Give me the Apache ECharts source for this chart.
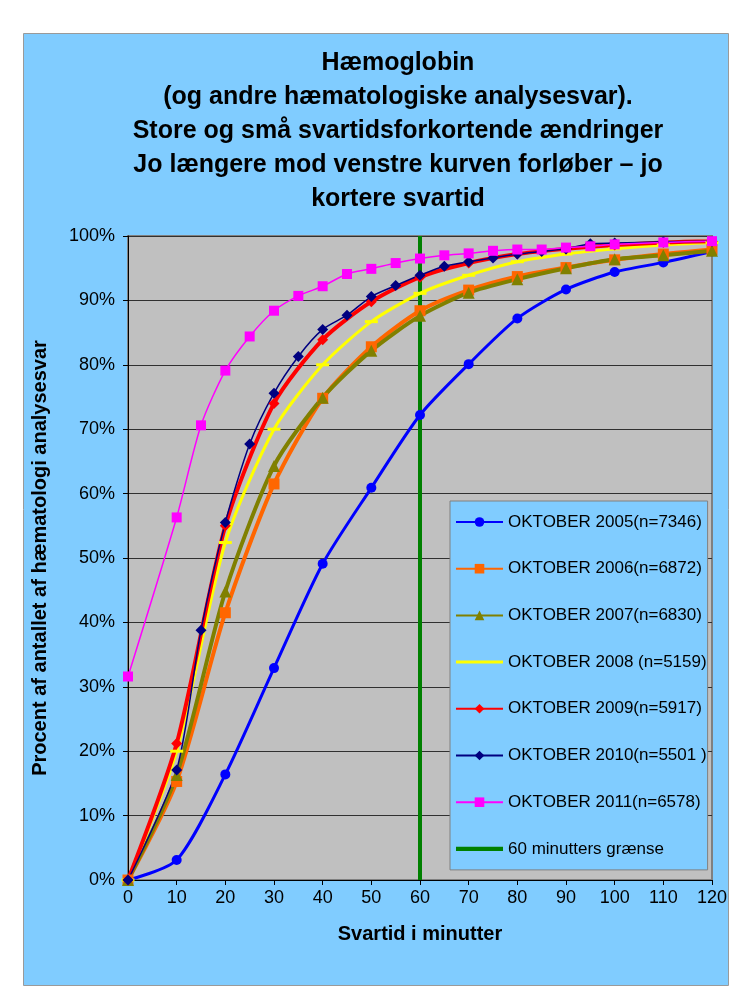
<!DOCTYPE html>
<html>
<head>
<meta charset="utf-8">
<script src="https://cdn.jsdelivr.net/npm/echarts@6/dist/echarts.min.js"></script>
<style>
html,body{margin:0;padding:0;background:#fff;}
#c{width:734px;height:996px;}
</style>
</head>
<body>
<div id="c"></div>
<script>
// ---- data ----
const titleLines = [
  "Hæmoglobin",
  "(og andre hæmatologiske analysesvar).",
  "Store og små svartidsforkortende ændringer",
  "Jo længere mod venstre kurven forløber – jo",
  "kortere svartid"
];
const xAxisTitle = "Svartid i minutter";
const yAxisTitle = "Procent af antallet af hæmatologi analysesvar";

const minutesA = [0,10,20,30,40,50,60,70,80,90,100,110,120];
const minutesB = [0,10,15,20,25,30,35,40,45,50,55,60,65,70,75,80,85,90,95,100,110,120];

const names = [
  "OKTOBER 2005(n=7346)",
  "OKTOBER 2006(n=6872)",
  "OKTOBER 2007(n=6830)",
  "OKTOBER 2008 (n=5159)",
  "OKTOBER 2009(n=5917)",
  "OKTOBER 2010(n=5501 )",
  "OKTOBER 2011(n=6578)"
];
const limitName = "60 minutters grænse";
const limitMinute = 60;
const limitRange = [0, 100];

const v2005 = [0,3.1,16.4,32.9,49.1,60.9,72.2,80.1,87.2,91.7,94.4,95.9,97.6];
const v2006 = [0,15.3,41.5,61.5,74.8,82.8,88.4,91.6,93.7,95.1,96.3,97.2,97.9];
const v2007 = [0,16.3,44.8,64.3,74.9,82.2,87.6,91.2,93.3,95.0,96.4,97.0,97.7];
const v2008 = [0,20.0,52.4,70.0,80.0,86.7,91.1,93.9,96.0,97.2,98.0,98.6,99.0];
const v2009 = [0,21.2,55.0,74.0,83.9,89.8,93.6,95.8,97.2,98.0,98.6,99.0,99.2];
const v2010 = [0,17.1,38.8,55.5,67.7,75.6,81.3,85.5,87.7,90.6,92.3,93.9,95.3,96.0,96.6,97.2,97.6,98.0,98.8,98.9,99.1,99.2];
const v2011 = [31.6,56.3,70.6,79.1,84.4,88.4,90.7,92.2,94.1,94.9,95.8,96.5,97.0,97.3,97.7,97.9,97.9,98.2,98.4,98.7,99.0,99.2];

const xTicks = {min:0, max:120, interval:10};
const yTicks = {min:0, max:100, interval:10};

// ---- build chart ----
const pair = (xs, ys) => xs.map((x,i)=>[x, ys[i]]);
const FONT = "'Liberation Sans', Arial, sans-serif";
const BG = '#80CCFF';

function lineSeries(name, xs, ys, color, width, symbol, size) {
  return {
    name, type:'line', data: pair(xs, ys),
    smooth: 0.25,
    symbol, symbolSize: size, showAllSymbol: true,
    lineStyle:{color, width},
    itemStyle:{color, borderWidth:0},
    emphasis:{disabled:true},
    animation:false
  };
}

const series = [
  {
    name: limitName, type:'line',
    data: limitRange.map(v => [limitMinute, v]),
    symbol:'none', lineStyle:{color:'#008000', width:4}, itemStyle:{color:'#008000'},
    animation:false
  },
  lineSeries(names[0], minutesA, v2005, '#0000FF', 3, 'circle', 10),
  lineSeries(names[1], minutesA, v2006, '#FF6600', 4, 'rect', 11),
  lineSeries(names[2], minutesA, v2007, '#808000', 4, 'triangle', 12),
  lineSeries(names[3], minutesA, v2008, '#FFFF00', 3, 'rect', [13,3]),
  lineSeries(names[4], minutesA, v2009, '#FF0000', 4, 'diamond', 11),
  lineSeries(names[5], minutesB, v2010, '#000080', 1.5, 'diamond', 11),
  lineSeries(names[6], minutesB, v2011, '#FF00FF', 1.5, 'rect', 10)
];

// thin / thick bar icons (tiny corner specks keep the bounding box full height)
const barIcon = (t0, t1) =>
  `path://M0,0L0.01,0L0,0.01Z M0,${t0}H47V${t1}H0Z M0,12L0.01,12L0,11.99Z`;
const legendData = names.map((n, i) => (i === 3 ? {name:n, icon:barIcon(4.5, 7.5)} : {name:n}))
  .concat([{name:limitName, icon:barIcon(3.8, 8.2)}]);

const chart = echarts.init(document.getElementById('c'), null, {renderer:'canvas'});
chart.setOption({
  backgroundColor:'#ffffff',
  textStyle:{fontFamily:FONT},
  graphic:[{
    type:'rect', left:23, top:33, z:-10,
    shape:{width:705, height:952},
    style:{fill:BG, stroke:'#9a9a9a', lineWidth:1}
  }],
  title:{
    text: titleLines.join('\n'),
    left: 398, top: 46, textAlign:'center', padding:0,
    textStyle:{fontFamily:FONT, fontSize:25, fontWeight:'bold', lineHeight:34, color:'#000'}
  },
  grid:{
    left:128, top:236, width:584, height:644,
    show:true, backgroundColor:'#C0C0C0', borderColor:'#808080', borderWidth:2,
    containLabel:false
  },
  legend:{
    data: legendData,
    orient:'vertical', left:450, top:501,
    padding:[12.5, 1, 12.5, 5],
    itemWidth:47, itemHeight:12, itemGap:29.7,
    backgroundColor:BG, borderColor:'#808080', borderWidth:1,
    textStyle:{fontFamily:FONT, fontSize:17, lineHeight:17, color:'#000'},
    selectedMode:false
  },
  xAxis:{
    type:'value', min:xTicks.min, max:xTicks.max, interval:xTicks.interval,
    name:xAxisTitle, nameLocation:'middle', nameGap:44,
    nameTextStyle:{fontFamily:FONT, fontSize:20, fontWeight:'bold', color:'#000'},
    axisLine:{show:true, onZero:false, lineStyle:{color:'#000', width:1}},
    axisTick:{show:true, inside:false, length:5, lineStyle:{color:'#000'}},
    axisLabel:{fontFamily:FONT, fontSize:18, color:'#000', margin:9},
    splitLine:{show:false}
  },
  yAxis:{
    type:'value', min:yTicks.min, max:yTicks.max, interval:yTicks.interval,
    name:yAxisTitle, nameLocation:'middle', nameGap:78,
    nameTextStyle:{fontFamily:FONT, fontSize:20, fontWeight:'bold', color:'#000'},
    axisLine:{show:true, lineStyle:{color:'#000', width:1}},
    axisTick:{show:true, inside:false, length:5, lineStyle:{color:'#000'}},
    axisLabel:{fontFamily:FONT, fontSize:18, color:'#000', margin:13, formatter:'{value}%'},
    splitLine:{show:true, lineStyle:{color:'#303030', width:1}}
  },
  series
});
</script>
</body>
</html>
